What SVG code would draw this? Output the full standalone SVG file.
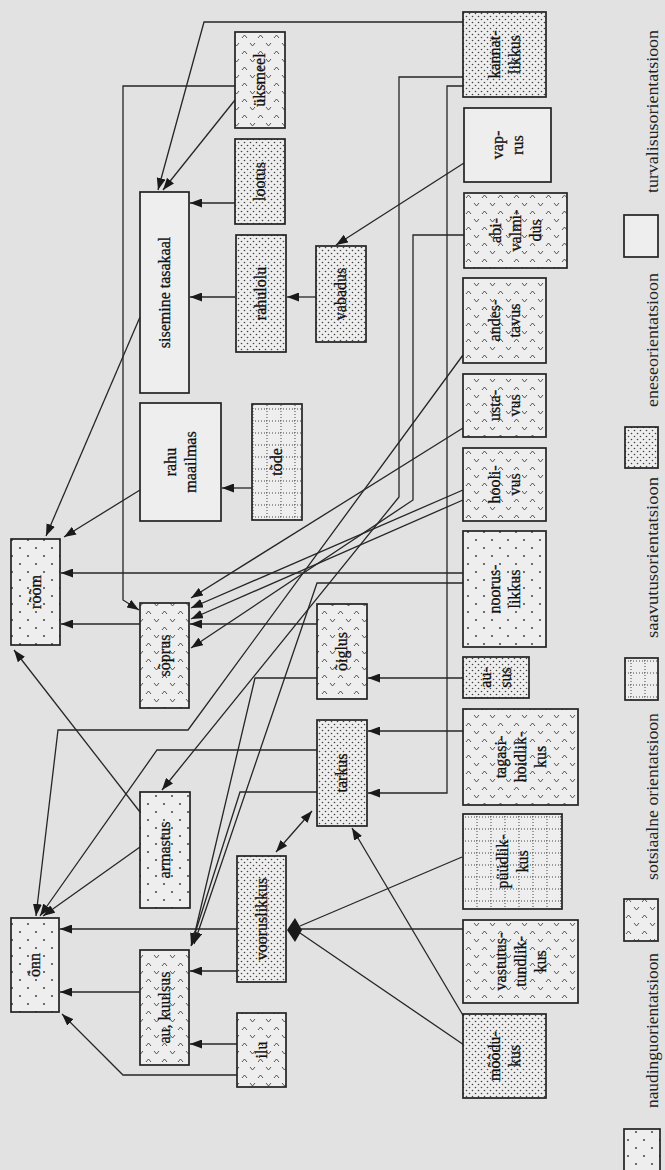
<svg xmlns="http://www.w3.org/2000/svg" width="665" height="1170" viewBox="0 0 665 1170">
<style>
.bg{fill:#e2e2e2}
.box{stroke:#222;stroke-width:1.7}
.lbl{font-family:"Liberation Serif","Times New Roman",serif;font-size:16px;fill:#111;stroke:#111;stroke-width:0.3;text-anchor:middle}
.leg{font-family:"Liberation Serif","Times New Roman",serif;font-size:16px;fill:#222;text-anchor:middle}
.c{fill:none;stroke:#262626;stroke-width:1.3}
.a{marker-end:url(#arr)}
.blank{fill:#eeeeee}
.dense{fill:url(#pDense)}
.sparse{fill:url(#pSparse)}
.va{fill:url(#pVA)}
.grid{fill:url(#pGrid)}
</style>
<defs>
<marker id="arr" markerUnits="userSpaceOnUse" markerWidth="13" markerHeight="9" refX="12" refY="4.5" orient="auto-start-reverse">
<path d="M0,0 L12,4.5 L0,9 z" fill="#1a1a1a"/>
</marker>
<pattern id="pDense" patternUnits="userSpaceOnUse" width="6" height="6">
<rect width="6" height="6" fill="#eeeeee"/>
<circle cx="1.5" cy="1.5" r="0.8" fill="#444"/>
<circle cx="4.5" cy="4.5" r="0.8" fill="#444"/>
</pattern>
<pattern id="pSparse" patternUnits="userSpaceOnUse" width="16" height="16">
<rect width="16" height="16" fill="#eeeeee"/>
<circle cx="4" cy="4" r="1" fill="#444"/>
<circle cx="12" cy="12" r="1" fill="#444"/>
</pattern>
<pattern id="pVA" patternUnits="userSpaceOnUse" width="16" height="16">
<rect width="16" height="16" fill="#eeeeee"/>
<path d="M2,6 L4.5,3 L7,6 M10,11 L12.5,14 L15,11" fill="none" stroke="#444" stroke-width="0.9"/>
</pattern>
<pattern id="pGrid" patternUnits="userSpaceOnUse" width="14" height="12">
<rect width="14" height="12" fill="#eeeeee"/>
<path d="M0,1 H14 M1,0 V12" fill="none" stroke="#444" stroke-width="1" stroke-dasharray="1,2"/>
</pattern>
</defs>
<rect class="bg" x="0" y="0" width="665" height="1170"/>

<g id="connectors">
<path class="c a" d="M463,22 L204,22 L158,190"/>
<path class="c a" d="M235,100 L163,190"/>
<path class="c a" d="M235,86 L123,86 L123,600 L139,610"/>
<path class="c a" d="M235,203 L190,203"/>
<path class="c a" d="M235,297 L190,297"/>
<path class="c a" d="M316,297 L287,297"/>
<path class="c a" d="M464,163 L336,245"/>
<path class="c a" d="M463,77 L399,77 L399,497 L162,790"/>
<path class="c a" d="M463,86 L447,86 L447,793 L368,793"/>
<path class="c a" d="M464,235 L413,235 L413,500 L191,648"/>
<path class="c a" d="M252,488 L222,488"/>
<path class="c a" d="M140,317 L46,536"/>
<path class="c a" d="M140,490 L64,537"/>
<path class="c a" d="M463,573 L61,573"/>
<path class="c a" d="M463,583 L317,583 L194,944"/>
<path class="c a" d="M463,355 L188,730 L58,730 L36,916"/>
<path class="c a" d="M463,428 L191,598"/>
<path class="c a" d="M463,490 L191,608"/>
<path class="c a" d="M463,500 L191,619"/>
<path class="c a" d="M317,624 L190,624"/>
<path class="c a" d="M140,624 L61,624"/>
<path class="c a" d="M140,812 L14,650"/>
<path class="c a" d="M463,678 L368,678"/>
<path class="c a" d="M463,731 L368,731"/>
<path class="c a" d="M317,678 L255,678 L192,945"/>
<path class="c a" d="M317,792 L240,792 L191,946"/>
<path class="c a" d="M317,750 L157,750 L40,916"/>
<path class="c a" d="M140,847 L43,916"/>
<path class="c a" d="M312,811 L276,852" marker-start="url(#arr)"/>
<path class="c a" d="M464,1017 L352,828"/>
<path class="c" d="M464,1045 L300,933"/>
<path class="c" d="M464,929 L300,929"/>
<path class="c" d="M462,857 L300,926"/>
<polygon points="287,930 295,918 302,930 295,942" fill="#1a1a1a"/>
<path class="c a" d="M237,929 L60,929"/>
<path class="c a" d="M237,971 L190,971"/>
<path class="c a" d="M140,992 L60,992"/>
<path class="c a" d="M237,1044 L190,1044"/>
<path class="c a" d="M237,1075 L123,1075 L62,1014"/>
</g>

<g id="n-kannatlikkus"><rect class="box dense" x="463" y="12" width="83" height="85"/>
<text class="lbl" transform="translate(504.5,54.5) rotate(-90)"><tspan x="0" y="-5">kannat-</tspan><tspan x="0" y="15">likkus</tspan></text></g>
<g id="n-vaprus"><rect class="box blank" x="464" y="108" width="87" height="74"/>
<text class="lbl" transform="translate(507.5,145) rotate(-90)"><tspan x="0" y="-5">vap-</tspan><tspan x="0" y="15">rus</tspan></text></g>
<g id="n-abivalmidus"><rect class="box va" x="464" y="193" width="103" height="75"/>
<text class="lbl" transform="translate(515.5,230.5) rotate(-90)"><tspan x="0" y="-15">abi-</tspan><tspan x="0" y="5">valmi-</tspan><tspan x="0" y="25">dus</tspan></text></g>
<g id="n-andestavus"><rect class="box va" x="463" y="278" width="83" height="85"/>
<text class="lbl" transform="translate(504.5,320.5) rotate(-90)"><tspan x="0" y="-5">andes-</tspan><tspan x="0" y="15">tavus</tspan></text></g>
<g id="n-ustavus"><rect class="box va" x="463" y="374" width="83" height="63"/>
<text class="lbl" transform="translate(504.5,405.5) rotate(-90)"><tspan x="0" y="-5">usta-</tspan><tspan x="0" y="15">vus</tspan></text></g>
<g id="n-hoolivus"><rect class="box va" x="463" y="448" width="83" height="73"/>
<text class="lbl" transform="translate(504.5,484.5) rotate(-90)"><tspan x="0" y="-5">hooli-</tspan><tspan x="0" y="15">vus</tspan></text></g>
<g id="n-nooruslikkus"><rect class="box sparse" x="463" y="531" width="83" height="116"/>
<text class="lbl" transform="translate(504.5,589) rotate(-90)"><tspan x="0" y="-5">noorus-</tspan><tspan x="0" y="15">likkus</tspan></text></g>
<g id="n-ausus"><rect class="box dense" x="463" y="657" width="66" height="41"/>
<text class="lbl" transform="translate(496,677.5) rotate(-90)"><tspan x="0" y="-5">au-</tspan><tspan x="0" y="15">sus</tspan></text></g>
<g id="n-tagasihoidlikkus"><rect class="box va" x="463" y="709" width="115" height="96"/>
<text class="lbl" transform="translate(520.5,757) rotate(-90)"><tspan x="0" y="-15">tagasi-</tspan><tspan x="0" y="5">hoidlik-</tspan><tspan x="0" y="25">kus</tspan></text></g>
<g id="n-puudlikkus"><rect class="box grid" x="463" y="814" width="99" height="95"/>
<text class="lbl" transform="translate(512.5,861.5) rotate(-90)"><tspan x="0" y="-5">püüdlik-</tspan><tspan x="0" y="15">kus</tspan></text></g>
<g id="n-vastutustundlikkus"><rect class="box va" x="463" y="920" width="115" height="83"/>
<text class="lbl" transform="translate(520.5,961.5) rotate(-90)"><tspan x="0" y="-15">vastutus-</tspan><tspan x="0" y="5">tundlik-</tspan><tspan x="0" y="25">kus</tspan></text></g>
<g id="n-moodukus"><rect class="box dense" x="463" y="1014" width="83" height="84"/>
<text class="lbl" transform="translate(504.5,1056) rotate(-90)"><tspan x="0" y="-5">mõõdu-</tspan><tspan x="0" y="15">kus</tspan></text></g>

<g id="n-uksmeel"><rect class="box va" x="235" y="32" width="50" height="96"/>
<text class="lbl" transform="translate(260,80) rotate(-90)" y="5">üksmeel</text></g>
<g id="n-lootus"><rect class="box dense" x="235" y="139" width="50" height="85"/>
<text class="lbl" transform="translate(260,181.5) rotate(-90)" y="5">lootus</text></g>
<g id="n-rahulolu"><rect class="box dense" x="236" y="235" width="50" height="117"/>
<text class="lbl" transform="translate(261,293.5) rotate(-90)" y="5">rahulolu</text></g>
<g id="n-vabadus"><rect class="box dense" x="316" y="246" width="50" height="96"/>
<text class="lbl" transform="translate(341,294) rotate(-90)" y="5">vabadus</text></g>
<g id="n-sisemine"><rect class="box blank" x="140" y="192" width="49" height="201"/>
<text class="lbl" transform="translate(164.5,292.5) rotate(-90)" y="5">sisemine tasakaal</text></g>
<g id="n-rahumaailmas"><rect class="box blank" x="140" y="403" width="81" height="118"/>
<text class="lbl" transform="translate(180.5,462) rotate(-90)"><tspan x="0" y="-5">rahu</tspan><tspan x="0" y="15">maailmas</tspan></text></g>
<g id="n-tode"><rect class="box grid" x="252" y="404" width="50" height="116"/>
<text class="lbl" transform="translate(277,462) rotate(-90)" y="5">tõde</text></g>
<g id="n-room"><rect class="box sparse" x="11" y="539" width="49" height="106"/>
<text class="lbl" transform="translate(35.5,592) rotate(-90)" y="5">rõõm</text></g>
<g id="n-soprus"><rect class="box va" x="140" y="603" width="49" height="105"/>
<text class="lbl" transform="translate(164.5,655.5) rotate(-90)" y="5">sõprus</text></g>
<g id="n-oiglus"><rect class="box va" x="317" y="604" width="50" height="95"/>
<text class="lbl" transform="translate(342,651.5) rotate(-90)" y="5">õiglus</text></g>
<g id="n-tarkus"><rect class="box dense" x="317" y="720" width="50" height="106"/>
<text class="lbl" transform="translate(342,773) rotate(-90)" y="5">tarkus</text></g>
<g id="n-armastus"><rect class="box sparse" x="140" y="792" width="50" height="116"/>
<text class="lbl" transform="translate(165,850) rotate(-90)" y="5">armastus</text></g>
<g id="n-vooruslikkus"><rect class="box dense" x="237" y="856" width="49" height="126"/>
<text class="lbl" transform="translate(261.5,919) rotate(-90)" y="5">vooruslikkus</text></g>
<g id="n-onn"><rect class="box sparse" x="11" y="918" width="48" height="94"/>
<text class="lbl" transform="translate(35,965) rotate(-90)" y="5">õnn</text></g>
<g id="n-aukuulsus"><rect class="box va" x="140" y="950" width="49" height="115"/>
<text class="lbl" transform="translate(164.5,1007.5) rotate(-90)" y="5">au, kuulsus</text></g>
<g id="n-ilu"><rect class="box va" x="237" y="1013" width="49" height="74"/>
<text class="lbl" transform="translate(261.5,1050) rotate(-90)" y="5">ilu</text></g>

<g id="legend">
<text class="leg" transform="translate(653,111.5) rotate(-90)" y="5" textLength="163" lengthAdjust="spacingAndGlyphs">turvalisusorientatsioon</text>
<rect class="box blank" x="624" y="215" width="34" height="42"/>
<text class="leg" transform="translate(653,340) rotate(-90)" y="5" textLength="134" lengthAdjust="spacingAndGlyphs">eneseorientatsioon</text>
<rect class="box dense" x="625" y="427" width="33" height="41"/>
<text class="leg" transform="translate(653,557.5) rotate(-90)" y="5" textLength="161" lengthAdjust="spacingAndGlyphs">saavutusorientatsioon</text>
<rect class="box grid" x="625" y="658" width="33" height="42"/>
<text class="leg" transform="translate(653,796.5) rotate(-90)" y="5" textLength="167" lengthAdjust="spacingAndGlyphs">sotsiaalne orientatsioon</text>
<rect class="box va" x="624" y="899" width="34" height="42"/>
<text class="leg" transform="translate(653,1030.5) rotate(-90)" y="5" textLength="155" lengthAdjust="spacingAndGlyphs">naudinguorientatsioon</text>
<rect class="box sparse" x="624" y="1129" width="36" height="46"/>
</g>
</svg>
